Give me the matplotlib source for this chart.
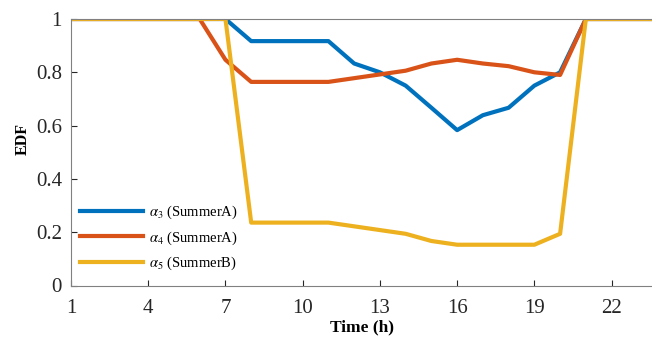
import matplotlib
matplotlib.use("Agg")
import matplotlib.pyplot as plt

hours = list(range(1, 25))
alpha3 = [1, 1, 1, 1, 1, 1, 1, 0.917, 0.917, 0.917, 0.917, 0.833, 0.8, 0.75, 0.667, 0.583,
          0.639, 0.667, 0.75, 0.8, 1, 1, 1, 1]
alpha4 = [1, 1, 1, 1, 1, 1, 0.847, 0.764, 0.764, 0.764, 0.764, 0.778, 0.792, 0.806, 0.833, 0.847,
          0.833, 0.823, 0.8, 0.79, 1, 1, 1, 1]
alpha5 = [1, 1, 1, 1, 1, 1, 1, 0.236, 0.236, 0.236, 0.236, 0.222, 0.208, 0.194, 0.167, 0.153,
          0.153, 0.153, 0.153, 0.194, 1, 1, 1, 1]
labels = [r"$\alpha_{3}$ (SummerA)", r"$\alpha_{4}$ (SummerA)", r"$\alpha_{5}$ (SummerB)"]
colors = ["#0072BD", "#D95319", "#EDB120"]
xticks = [1, 4, 7, 10, 13, 16, 19, 22]
yticks = [0, 0.2, 0.4, 0.6, 0.8, 1]
ytick_labels = ["0", "0.2", "0.4", "0.6", "0.8", "1"]

plt.rcParams['font.family'] = ['Liberation Serif', 'DejaVu Serif']
plt.rcParams['mathtext.fontset'] = 'stix'

fig = plt.figure(figsize=(6.52, 3.38), dpi=100)
ax = fig.add_axes([71/652, 1 - 285.5/338, 1 - 71/652, 266.5/338])
for y, lab, c in zip([alpha3, alpha4, alpha5], labels, colors):
    ax.plot(hours, y, color=c, lw=3, label=lab)
ax.set_xlim(1, 23.57)
ax.set_ylim(0, 1)
ax.set_xticks(xticks)
ax.set_yticks(yticks)
ax.set_yticklabels(ytick_labels)
ax.tick_params(direction='in', length=4, labelsize=15, colors='#262626', width=0.8)
ax.tick_params(axis='x', pad=10)
ax.tick_params(axis='y', pad=6.5)
for s in ax.spines.values():
    s.set_color('#808080')
    s.set_linewidth(0.8)
ax.spines['right'].set_visible(False)
ax.set_xlabel("Time (h)", fontsize=12.5, fontweight='bold')
ax.xaxis.set_label_coords(0.5, -0.126)
ax.set_ylabel("EDF", fontsize=11.5, fontweight='bold')
ax.yaxis.set_label_coords(-0.070, 0.55)
leg = ax.legend(loc='center left', frameon=False, fontsize=10.5, handlelength=4.3,
                bbox_to_anchor=(0.0155, 0.178), borderaxespad=0, borderpad=0,
                labelspacing=0.55, handletextpad=0.4)
fig.savefig("out.png", dpi=100)
